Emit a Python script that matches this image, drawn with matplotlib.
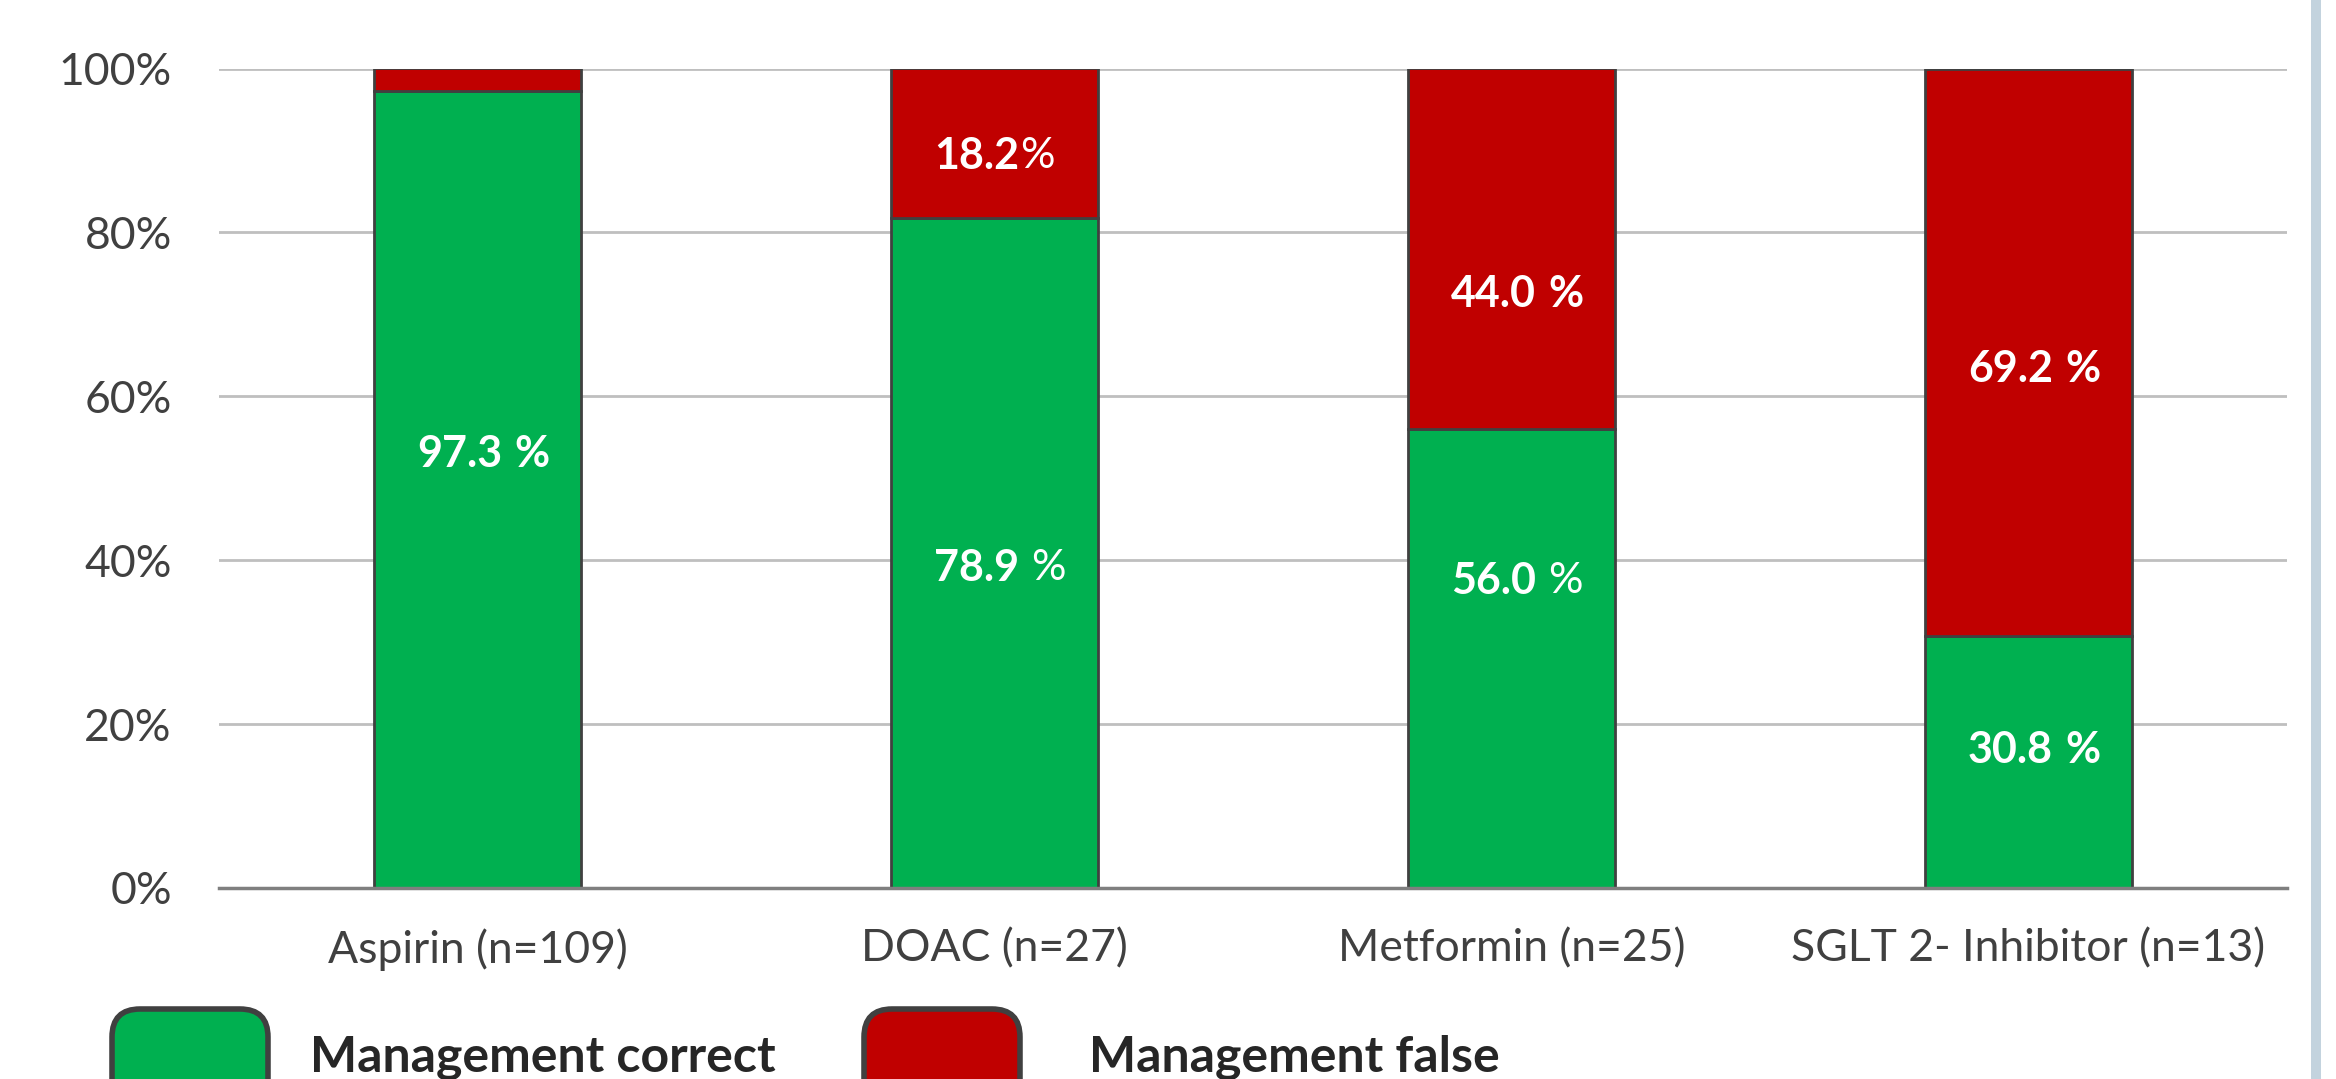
import matplotlib
matplotlib.use("Agg")
import matplotlib.pyplot as plt
from matplotlib.patches import FancyBboxPatch, Rectangle

plt.rcParams['font.family'] = ['Lato', 'DejaVu Sans']

# data
drugs = ["Aspirin (n=109)", "DOAC (n=27)", "Metformin (n=25)", "SGLT 2- Inhibitor (n=13)"]
correct_pct = [97.3, 81.8, 56.0, 30.8]
false_pct = [2.7, 18.2, 44.0, 69.2]

# printed labels (as in the original, incl. spacing)
correct_num = ["97.3", "78.9", "56.0", "30.8"]
correct_pct_bold = [True, False, False, True]
false_num = [None, "18.2", "44.0", "69.2"]
false_pct_bold = [None, False, True, True]
false_gap = [None, 0, 8, 8]
# label heights (data units) as they were placed in the source chart
correct_label_y = [52.9, 39.1, 37.5, 16.9]
false_label_y = [None, 89.3, 72.5, 63.3]

GREEN = "#00B050"
RED = "#C00000"
EDGE = "#404040"
GRID = "#BFBFBF"
TXT = "#404040"

W, H = 2336, 1079
fig = plt.figure(figsize=(W / 100, H / 100), dpi=100)
ax = fig.add_axes([219 / W, 191 / H, (2287 - 219) / W, (888 - 68.5) / H])

x = list(range(len(drugs)))
ax.bar(x, correct_pct, width=0.4, color=GREEN, edgecolor=EDGE, linewidth=2, zorder=3)
ax.bar(x, false_pct, width=0.4, bottom=correct_pct, color=RED, edgecolor=EDGE, linewidth=2, zorder=3)

ax.set_xlim(-0.5, 3.5)
ax.set_ylim(0, 100)
ax.set_yticks([0, 20, 40, 60, 80, 100])
ax.set_yticklabels([f"{v}%" for v in [0, 20, 40, 60, 80, 100]])
ax.set_xticks(x)
ax.set_xticklabels(drugs)
ax.tick_params(axis="both", length=0, labelsize=32, colors=TXT)
ax.tick_params(axis="y", pad=34)
ax.tick_params(axis="x", pad=29)
ax.yaxis.grid(True, color=GRID, linewidth=2, zorder=0)
ax.set_axisbelow(True)
for side in ["top", "right", "left"]:
    ax.spines[side].set_visible(False)
ax.spines["bottom"].set_color("#7F7F7F")
ax.spines["bottom"].set_linewidth(2.5)
ax.spines["bottom"].set_zorder(4)


def put_label(xc, yc, num, pct_bold, gap):
    # bold number followed by a "%" that is sometimes regular weight
    t = ax.text(xc - 0.035, yc, num, color="white", fontsize=31, fontweight="bold",
                ha="center", va="center", zorder=5)
    ax.annotate("%", xy=(1, 0.5), xycoords=t, xytext=(gap + 1, 0), textcoords="offset points",
                color="white", fontsize=31, fontweight="bold" if pct_bold else "normal",
                ha="left", va="center", zorder=5)


for i in x:
    put_label(i, correct_label_y[i], correct_num[i], correct_pct_bold[i], 8)
    if false_num[i] is not None:
        put_label(i, false_label_y[i], false_num[i], false_pct_bold[i], false_gap[i])

# legend at the bottom (cut off by the canvas edge in the source)
for x0, col, lab, tx in [(112, GREEN, "Management correct", 310), (864, RED, "Management false", 1089)]:
    box = FancyBboxPatch((x0 / W, -40 / H), 156 / W, (1079 - 1009 + 40) / H,
                         boxstyle="round,pad=0,rounding_size=0.012",
                         transform=fig.transFigure, facecolor=col, edgecolor=EDGE,
                         linewidth=4, mutation_aspect=W / H)
    fig.add_artist(box)
    fig.text(tx / W, (1079 - 1057) / H, lab, fontsize=36, fontweight="bold",
             color="#262626", ha="left", va="center")

# thin frame strip at the right edge
fig.add_artist(Rectangle((2311 / W, 0), 10 / W, 1, transform=fig.transFigure,
                         facecolor="#C3D3DE", edgecolor="none"))

fig.savefig("out.png", dpi=100)
